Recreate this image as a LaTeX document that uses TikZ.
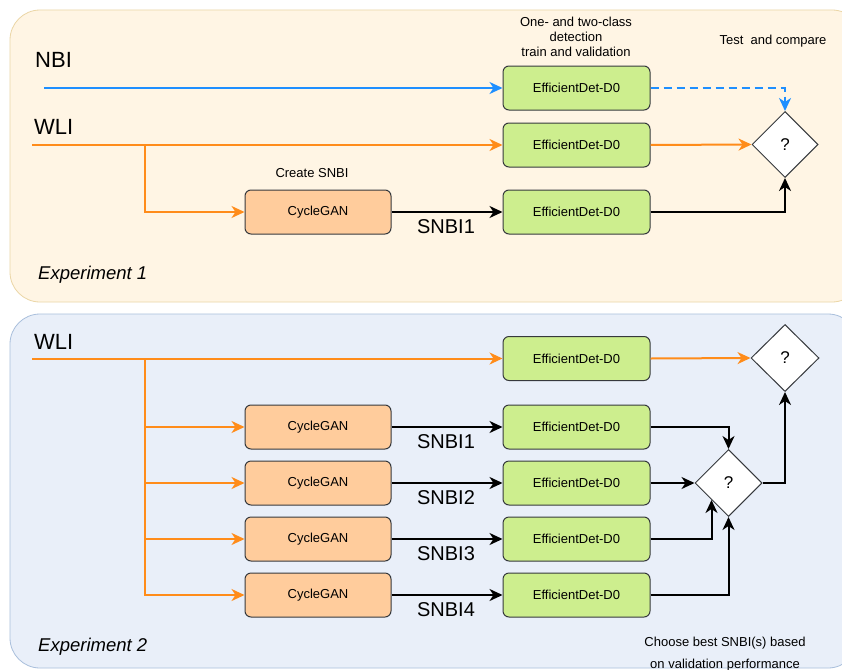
\documentclass[tikz,border=0pt]{standalone}
\usepackage{fontspec}
\setmainfont{Liberation Sans}
\usetikzlibrary{shapes.geometric,arrows.meta}

\definecolor{panelA}{HTML}{FFF5E4}
\definecolor{panelAline}{HTML}{EBD6A6}
\definecolor{panelB}{HTML}{E9EFF9}
\definecolor{panelBline}{HTML}{A9BFDC}
\definecolor{detfill}{HTML}{CDEE8E}
\definecolor{ganfill}{HTML}{FFCC9C}
\definecolor{boxline}{HTML}{36393D}
\definecolor{nbiblue}{HTML}{1E8FFF}
\definecolor{wliorange}{HTML}{FF8C1A}

\tikzset{
  panel/.style={rounded corners=30pt, line width=0.8pt},
  detbox/.style={draw=boxline, fill=detfill, rounded corners=6pt, line width=1pt,
    minimum width=147pt, minimum height=44pt, inner sep=0pt,
    font=\fontsize{13}{15}\selectfont},
  ganbox/.style={draw=boxline, fill=ganfill, rounded corners=6pt, line width=1pt,
    minimum width=146pt, minimum height=44pt, inner sep=0pt,
    font=\fontsize{13}{15}\selectfont},
  decide/.style={diamond, draw=boxline, fill=white, line width=1pt, inner sep=0pt,
    minimum width=67pt, minimum height=67pt, font=\fontsize{17}{19}\selectfont},
  biglabel/.style={anchor=west, inner sep=0pt, font=\fontsize{22}{24}\selectfont},
  snbilabel/.style={inner sep=0pt, font=\fontsize{20}{22}\selectfont},
  note/.style={inner sep=0pt, align=center, font=\fontsize{13}{15}\selectfont},
  exptitle/.style={anchor=west, inner sep=0pt, font=\fontsize{18.5}{20}\itshape},
  tip/.style={-{Stealth[length=13pt,width=12pt,inset=4pt]}},
  blueflow/.style={tip, draw=nbiblue, line width=2pt},
  orangeflow/.style={tip, draw=wliorange, line width=2pt},
  orangeline/.style={draw=wliorange, line width=2pt},
  blackflow/.style={tip, draw=black, line width=2pt},
}

\begin{document}
\begin{tikzpicture}[x=1pt, y=-1pt]
\useasboundingbox (0,0) rectangle (842,669);
\clip (0,0) rectangle (842,669);
\fill[white] (0,0) rectangle (842,669);

% ---------- Experiment 1 ----------
\draw[panel, fill=panelA, draw=panelAline] (10,10) rectangle (862,302);

\node[biglabel] (nbi1) at (35,60) {NBI};
\node[biglabel] (wli1) at (34,127) {WLI};
\node[note] (title1) at (576,37) {One- and two-class\\detection\\train and validation};
\node[note] (testlbl) at (773,41) {Test\ \ and compare};
\node[note] (createlbl) at (312,173) {Create SNBI};
\node[exptitle] (exp1) at (38,275) {Experiment 1};

\node[detbox] (g1) at (576.5,88) {EfficientDet-D0};
\node[detbox] (g2) at (576.5,145) {EfficientDet-D0};
\node[detbox] (g3) at (576.5,212) {EfficientDet-D0};
\node[ganbox] (c0) at (318,212) {CycleGAN};
\node[decide, minimum width=66pt, minimum height=66pt] (d1) at (785,144.5) {?};

\coordinate (nbistart) at (44,88);
\coordinate (wlistart1) at (32,145);
\coordinate (split1) at (145,145);

\draw[blueflow] (nbistart) -- (g1.west);
\draw[orangeflow] (wlistart1) -- (g2.west);
\draw[orangeflow] (split1) |- (c0.west);
\draw[blackflow] (c0.east) -- (g3.west);
\node[snbilabel] (s0) at (446,227) {SNBI1};
\draw[blueflow, dash pattern=on 8pt off 5pt] (g1.east) -| (d1.north);
\draw[orangeflow] (g2.east) -- (d1.west);
\draw[blackflow] (g3.east) -| (d1.south);

% ---------- Experiment 2 ----------
\draw[panel, fill=panelB, draw=panelBline] (10,314) rectangle (858,668);

\node[biglabel] (wli2) at (34,342) {WLI};
\node[exptitle] (exp2) at (38,647) {Experiment 2};
\node[note] (chooselbl) at (725,643) {Choose best SNBI(s) based};
\node[note] (chooselbl2) at (725,665) {on validation performance};

\node[detbox] (h0) at (576.5,358.5) {EfficientDet-D0};
\node[decide, minimum width=68pt] (e1) at (785,358) {?};
\node[decide] (d2) at (728.5,483) {?};

\coordinate (wlistart2) at (32,358.5);
\coordinate (split2) at (145,358.5);
\coordinate (splitend) at (145,595);

\draw[orangeflow] (wlistart2) -- (h0.west);
\draw[orangeflow] (h0.east) -- (e1.west);
\draw[orangeline] (split2) -- (splitend);

\foreach \k/\y in {1/427,2/483,3/539,4/595}{
  \node[ganbox] (c\k) at (318,\y) {CycleGAN};
  \node[detbox] (h\k) at (576.5,\y) {EfficientDet-D0};
  \draw[orangeflow] (split2) |- (c\k.west);
  \draw[blackflow] (c\k.east) -- (h\k.west);
  \node[snbilabel] (s\k) at (446,\y+15) {SNBI\k};
}

\draw[blackflow] (h1.east) -| (d2.north);
\draw[blackflow] (h2.east) -- (d2.west);
\draw[blackflow] (h3.east) -| (d2.south west);
\draw[blackflow] (h4.east) -| (d2.south);
\draw[blackflow] (d2.east) -| (e1.south);
\end{tikzpicture}
\end{document}
